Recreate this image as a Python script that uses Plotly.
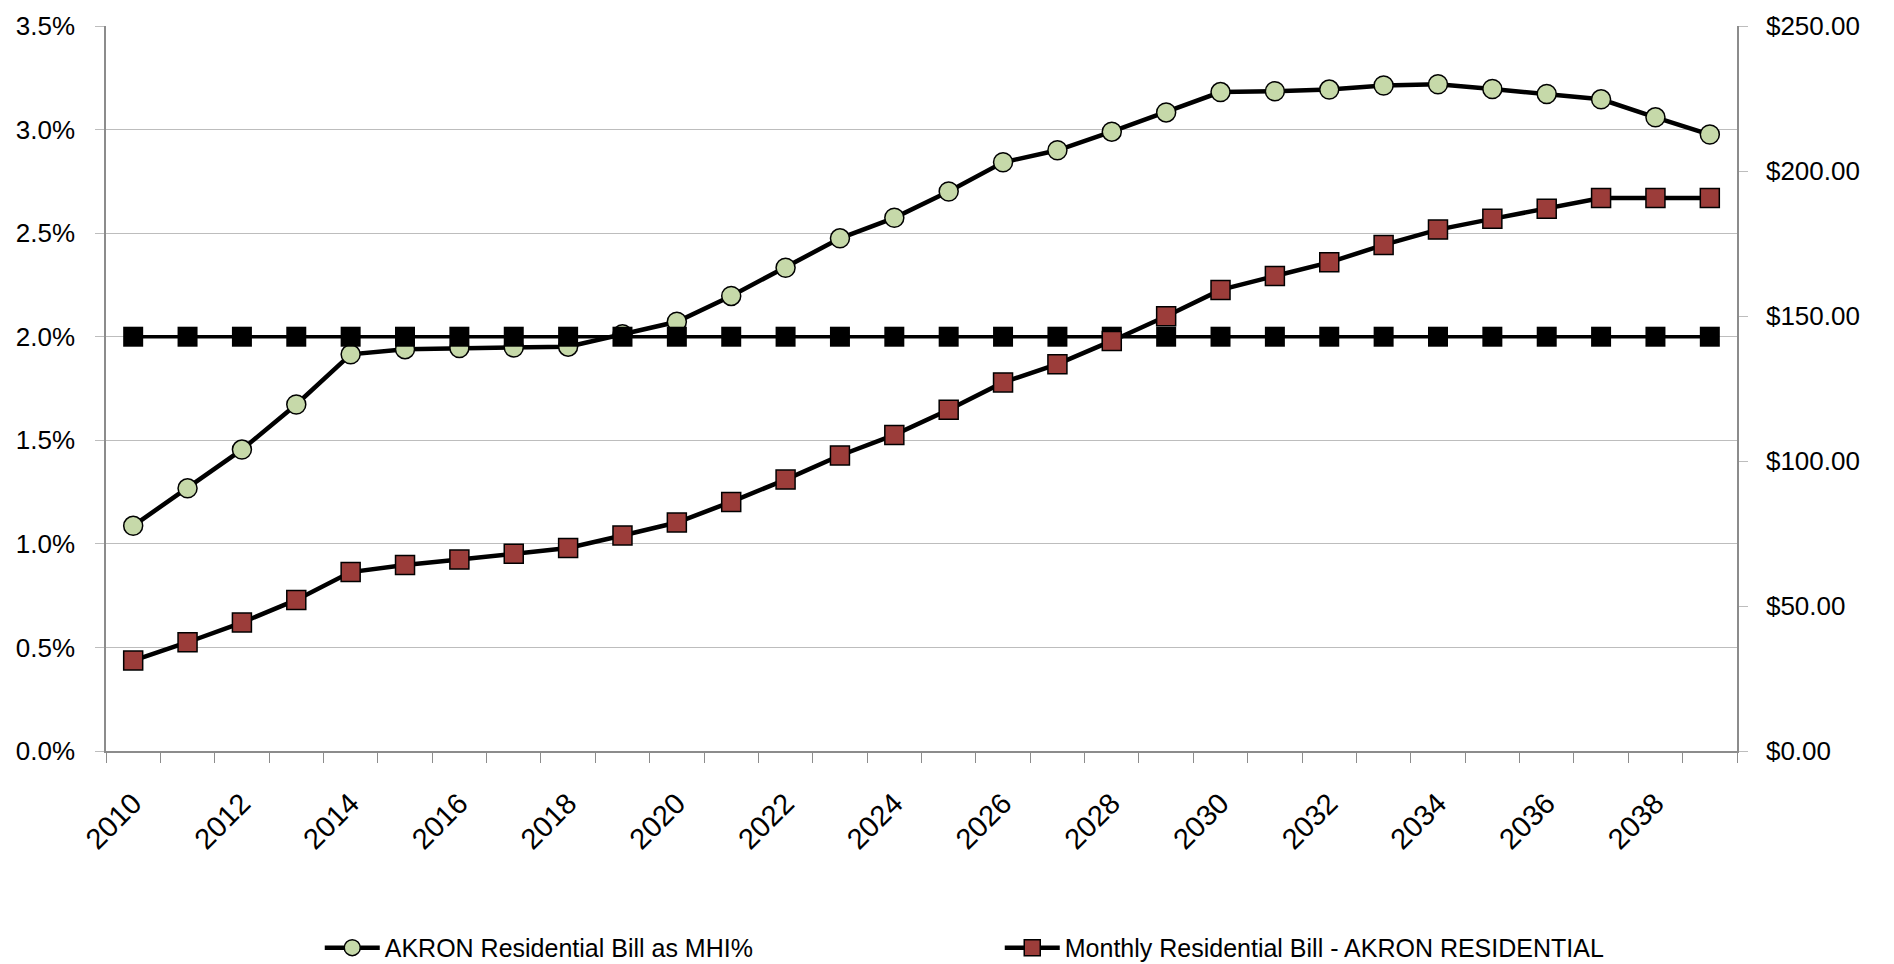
import plotly.graph_objects as go

years = list(range(2010, 2040))

# AKRON residential bill as share of median household income (fraction)
mhi_share = [0.01087, 0.01268, 0.01455, 0.01673, 0.01915, 0.01940, 0.01945, 0.01948,
             0.01952, 0.02012, 0.02072, 0.02197, 0.02333, 0.02475, 0.02574, 0.02701,
             0.02842, 0.02900, 0.02990, 0.03083, 0.03181, 0.03185, 0.03193, 0.03213,
             0.03219, 0.03196, 0.03172, 0.03146, 0.03059, 0.02976]

# Monthly residential bill, dollars
monthly_bill = [31.2, 37.5, 44.3, 52.1, 61.7, 64.1, 66.0, 68.0, 70.0, 74.3,
                78.8, 85.9, 93.6, 101.9, 109.0, 117.7, 127.1, 133.4, 141.4, 149.9,
                159.0, 163.8, 168.5, 174.5, 179.8, 183.5, 187.0, 190.7, 190.7, 190.7]

# affordability threshold
threshold = [0.02] * len(years)

label_years = years[::2]

FONT = "Liberation Sans"
AXIS_GREY = "#8c8c8c"
GRID_GREY = "#bdbdbd"

fig = go.Figure()

fig.add_trace(go.Scatter(
    x=years, y=mhi_share, name="AKRON Residential Bill as MHI%",
    mode="lines+markers",
    line=dict(color="black", width=4.5),
    marker=dict(symbol="circle", size=19, color="#C6D9A9",
                line=dict(color="black", width=1.5)),
))

fig.add_trace(go.Scatter(
    x=years, y=threshold, name="Threshold", showlegend=False,
    mode="lines+markers",
    line=dict(color="black", width=3.5),
    marker=dict(symbol="square", size=20, color="black"),
))

fig.add_trace(go.Scatter(
    x=years, y=monthly_bill, name="Monthly Residential Bill - AKRON RESIDENTIAL",
    mode="lines+markers", yaxis="y2",
    line=dict(color="black", width=4.5),
    marker=dict(symbol="square", size=19, color="#9C3D3A",
                line=dict(color="black", width=1.5)),
))

fig.update_layout(
    width=1894, height=964,
    margin=dict(l=98, r=165, t=18, b=221),
    paper_bgcolor="white", plot_bgcolor="white",
    font=dict(family=FONT, size=26, color="black"),
    xaxis=dict(
        range=[2009.5, 2039.5], automargin=False,
        tickmode="array", tickvals=label_years, ticktext=[str(y) for y in label_years],
        tickangle=-45, ticks="", showgrid=False, ticklabelstandoff=22,
        showline=True, linecolor=AXIS_GREY, linewidth=1.5,
        tickfont=dict(size=29), ticklabeloverflow="allow",
        minor=dict(tickmode="linear", tick0=2009.5, dtick=1, ticks="outside",
                   ticklen=10, tickcolor=AXIS_GREY, showgrid=False),
        zeroline=False,
    ),
    yaxis=dict(
        range=[0, 0.035], dtick=0.005, tick0=0, tickformat=".1%", automargin=False,
        showgrid=True, gridcolor=GRID_GREY, gridwidth=1.2,
        showline=True, linecolor=AXIS_GREY, linewidth=1.5,
        ticks="outside", ticklen=9, tickcolor=GRID_GREY,
        ticklabelstandoff=15, zeroline=False, ticklabeloverflow="allow",
        tickfont=dict(size=26),
    ),
    yaxis2=dict(
        range=[0, 250], dtick=50, tick0=0, tickprefix="$", tickformat=",.2f",
        overlaying="y", side="right", showgrid=False, automargin=False,
        showline=True, linecolor=AXIS_GREY, linewidth=1.5,
        ticks="outside", ticklen=9, tickcolor=GRID_GREY,
        ticklabelstandoff=13, zeroline=False, ticklabeloverflow="allow",
        tickfont=dict(size=26),
    ),
    legend=dict(
        orientation="h", xref="container", yref="container",
        x=0.1646, xanchor="left", y=0.025, yanchor="middle",
        font=dict(size=25), itemwidth=55, entrywidth=610, entrywidthmode="pixels",
        bgcolor="rgba(0,0,0,0)",
    ),
)

fig.write_html("out.html")
